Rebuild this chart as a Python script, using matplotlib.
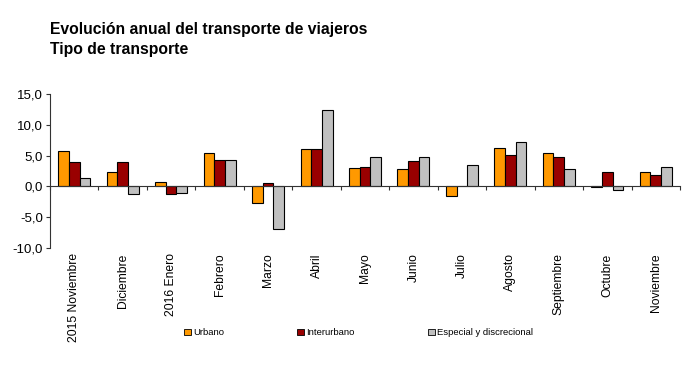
import matplotlib
matplotlib.use("Agg")
import matplotlib.pyplot as plt
import numpy as np
from matplotlib.patches import Patch
from matplotlib.ticker import FuncFormatter

plt.rcParams['font.family'] = ['Liberation Sans', 'DejaVu Sans']

categories = ["2015 Noviembre", "Diciembre", "2016 Enero", "Febrero", "Marzo", "Abril",
              "Mayo", "Junio", "Julio", "Agosto", "Septiembre", "Octubre", "Noviembre"]
urbano = [5.8, 2.4, 0.7, 5.5, -2.7, 6.0, 3.0, 2.9, -1.6, 6.3, 5.5, -0.1, 2.4]
interurbano = [4.0, 4.0, -1.2, 4.3, 0.5, 6.1, 3.1, 4.2, 0.1, 5.1, 4.8, 2.3, 1.9]
especial = [1.3, -1.2, -1.0, 4.3, -6.9, 12.4, 4.8, 4.7, 3.5, 7.2, 2.9, -0.6, 3.1]
series_names = ["Urbano", "Interurbano", "Especial y discrecional"]
colors = ["#FF9900", "#990000", "#C0C0C0"]

fig = plt.figure(figsize=(7, 3.69), dpi=100)
ax = fig.add_axes([0.0714, 0.328, 0.9, 0.417])

x = np.arange(len(categories))
w = 0.22
for k, (vals, c) in enumerate(zip([urbano, interurbano, especial], colors)):
    ax.bar(x + (k - 1) * w, vals, width=w, color=c, edgecolor="black", linewidth=0.8, zorder=2)

ax.set_xlim(-0.5, len(categories) - 0.5)
ax.set_ylim(-10, 15)
ax.set_yticks([-10, -5, 0, 5, 10, 15])
ax.yaxis.set_major_formatter(FuncFormatter(lambda v, p: f"{v:.1f}".replace(".", ",")))
ax.tick_params(axis='y', labelsize=9.5, length=3, width=0.8, color="#333333", pad=2)

ax.spines['top'].set_visible(False)
ax.spines['right'].set_visible(False)
ax.spines['bottom'].set_position(('data', 0))
ax.spines['left'].set_color("#333333")
ax.spines['bottom'].set_color("#333333")
ax.spines['left'].set_linewidth(0.8)
ax.spines['bottom'].set_linewidth(0.8)

ax.set_xticks(np.arange(len(categories) + 1) - 0.5)
ax.set_xticklabels([])
ax.tick_params(axis='x', length=3, width=0.8, color="#333333", direction='out')

for i, lab in enumerate(categories):
    ax.text(i, -0.035, lab, transform=ax.get_xaxis_transform(), rotation=90,
            ha='center', va='top', fontsize=8.7)

fig.text(0.0714, 0.94, "Evolución anual del transporte de viajeros\nTipo de transporte",
         fontsize=11.3, fontweight='bold', ha='left', va='top', linespacing=1.4)

handles = [Patch(facecolor=c, edgecolor="black", linewidth=0.6) for c in colors]
fig.legend(handles, series_names, loc='center', bbox_to_anchor=(0.512, 0.098), ncol=3,
           frameon=False, fontsize=6.8, handlelength=0.7, handleheight=0.7,
           handletextpad=0.2, columnspacing=7.8)

fig.savefig("out.png", dpi=100)
